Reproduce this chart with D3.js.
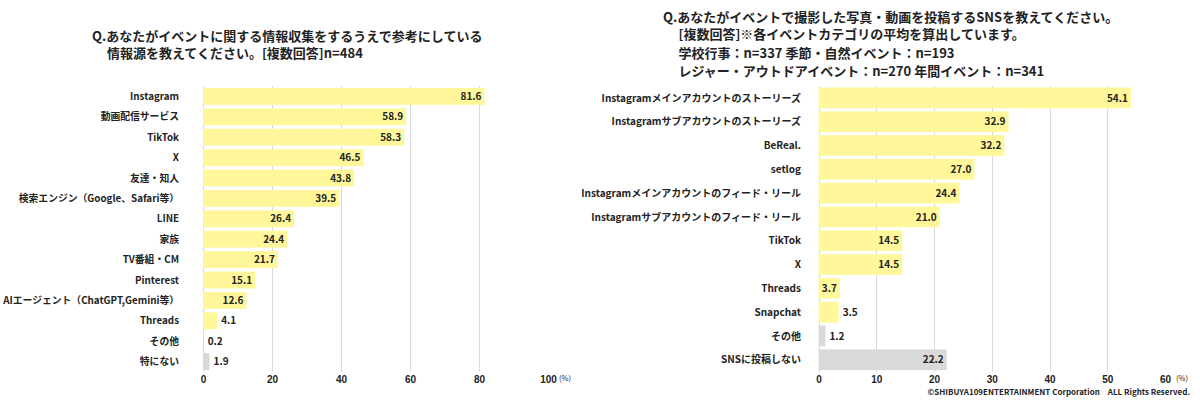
<!DOCTYPE html>
<html>
<head>
<meta charset="utf-8">
<script src="https://cdn.jsdelivr.net/npm/d3@7"></script>
<style>
  body { margin: 0; background: #fff; }
  svg { display: block; font-family: "Noto Sans CJK JP", "Noto Sans", sans-serif; font-weight: bold; }
</style>
</head>
<body>
<div id="chart"></div>
<script>
// left chart: information sources
var leftCategories = ["Instagram", "動画配信サービス", "TikTok", "X", "友達・知人",
    "検索エンジン（Google、Safari等）", "LINE", "家族", "TV番組・CM", "Pinterest",
    "AIエージェント（ChatGPT,Gemini等）", "Threads", "その他", "特にない"];
var leftValues = [81.6, 58.9, 58.3, 46.5, 43.8, 39.5, 26.4, 24.4, 21.7, 15.1, 12.6, 4.1, 0.2, 1.9];
var leftGray = ["その他", "特にない"];
var leftTicks = [0, 20, 40, 60, 80, 100];
var leftTitle = ["Q.あなたがイベントに関する情報収集をするうえで参考にしている",
    "情報源を教えてください。[複数回答]n=484"];

// right chart: SNS used to post photos/videos
var rightCategories = ["Instagramメインアカウントのストーリーズ", "Instagramサブアカウントのストーリーズ",
    "BeReal.", "setlog", "Instagramメインアカウントのフィード・リール", "Instagramサブアカウントのフィード・リール",
    "TikTok", "X", "Threads", "Snapchat", "その他", "SNSに投稿しない"];
var rightValues = [54.1, 32.9, 32.2, 27.0, 24.4, 21.0, 14.5, 14.5, 3.7, 3.5, 1.2, 22.2];
var rightGray = ["その他", "SNSに投稿しない"];
var rightTicks = [0, 10, 20, 30, 40, 50, 60];
var rightTitle = ["Q.あなたがイベントで撮影した写真・動画を投稿するSNSを教えてください。",
    "[複数回答]※各イベントカテゴリの平均を算出しています。",
    "学校行事：n=337 季節・自然イベント：n=193",
    "レジャー・アウトドアイベント：n=270 年間イベント：n=341"];

var width = 1200, height = 401;
var textColor = "#222";

var svg = d3.select("#chart").append("svg")
    .attr("width", width)
    .attr("height", height);

/**
* Draws one horizontal bar chart
*/
function drawBars(opts){
    var g = svg.append("g");

    var x = d3.scaleLinear()
        .domain([0, d3.max(opts.ticks)])
        .range([opts.x0, opts.x1]);

    var y = d3.scaleBand()
        .domain(opts.categories)
        .range([opts.y0, opts.y1])
        .paddingInner(opts.pad)
        .paddingOuter(opts.pad / 2);

    // gridlines (not at the max tick)
    g.selectAll(".grid")
        .data(opts.ticks.slice(0, -1))
        .enter().append("line")
        .attr("x1", function(d){ return Math.round(x(d)) + 0.5; })
        .attr("x2", function(d){ return Math.round(x(d)) + 0.5; })
        .attr("y1", opts.y0)
        .attr("y2", opts.y1)
        .attr("stroke", "#d9d9d9")
        .attr("stroke-width", 1);

    var rows = opts.categories.map(function(c, i){
        return { cat: c, value: opts.values[i] };
    });

    g.selectAll(".bar")
        .data(rows)
        .enter().append("rect")
        .attr("x", x(0))
        .attr("y", function(d){ return y(d.cat); })
        .attr("width", function(d){ return x(d.value) - x(0); })
        .attr("height", y.bandwidth())
        .attr("fill", function(d){
            return opts.gray.indexOf(d.cat) >= 0 ? "#d9d9d9" : "#fff79a";
        });

    // value labels: inside the bar end when it fits, otherwise just outside
    g.selectAll(".val")
        .data(rows)
        .enter().append("text")
        .attr("x", function(d){
            var w = x(d.value) - x(0);
            return w >= 21 ? x(d.value) - 3 : x(d.value) + 4;
        })
        .attr("y", function(d){ return y(d.cat) + y.bandwidth() / 2; })
        .attr("dy", "0.36em")
        .attr("text-anchor", function(d){
            return (x(d.value) - x(0)) >= 21 ? "end" : "start";
        })
        .attr("font-size", 10)
        .attr("fill", textColor)
        .text(function(d){ return d.value.toFixed(1); });

    // category labels
    g.selectAll(".cat")
        .data(rows)
        .enter().append("text")
        .attr("x", opts.labelX)
        .attr("y", function(d){ return y(d.cat) + y.bandwidth() / 2; })
        .attr("dy", "0.36em")
        .attr("text-anchor", "end")
        .attr("font-size", opts.labelSize)
        .attr("fill", textColor)
        .text(function(d){ return d.cat; });

    // x axis tick labels
    var axis = g.append("g")
        .attr("transform", "translate(0," + opts.tickY + ")")
        .call(d3.axisBottom(x).tickValues(opts.ticks).tickSize(0).tickPadding(0));
    axis.select(".domain").remove();
    axis.selectAll("text")
        .attr("font-family", null)
        .attr("font-size", 10)
        .attr("fill", textColor)
        .attr("dy", "0.36em");

    g.append("text")
        .attr("x", x(d3.max(opts.ticks)) + 11)
        .attr("y", opts.tickY)
        .attr("dy", "0.25em")
        .attr("font-size", 7.5)
        .attr("font-weight", "normal")
        .attr("fill", textColor)
        .text("(%)");

    // title
    g.selectAll(".title")
        .data(opts.title)
        .enter().append("text")
        .attr("x", function(d, i){ return opts.titleX[i]; })
        .attr("y", function(d, i){ return opts.titleY[i]; })
        .attr("dy", "0.36em")
        .attr("font-size", 13)
        .attr("fill", textColor)
        .text(function(d){ return d; });
}

drawBars({
    categories: leftCategories, values: leftValues, gray: leftGray, ticks: leftTicks,
    title: leftTitle, titleX: [92, 107], titleY: [36.5, 53.5],
    x0: 203, x1: 548, y0: 86.2, y1: 371.8, pad: 0.17,
    labelX: 179, labelSize: 9.8, tickY: 379.5
});

drawBars({
    categories: rightCategories, values: rightValues, gray: rightGray, ticks: rightTicks,
    title: rightTitle, titleX: [663, 678.5, 678.5, 678.5], titleY: [17, 34.5, 53, 71],
    x0: 818.5, x1: 1165, y0: 86, y1: 371.6, pad: 0.13,
    labelX: 801, labelSize: 10, tickY: 379.5
});

svg.append("text")
    .attr("x", 1190)
    .attr("y", 392)
    .attr("dy", "0.36em")
    .attr("text-anchor", "end")
    .attr("font-size", 8)
    .attr("fill", textColor)
    .text("©SHIBUYA109ENTERTAINMENT Corporation　ALL Rights Reserved.");
</script>
</body>
</html>
